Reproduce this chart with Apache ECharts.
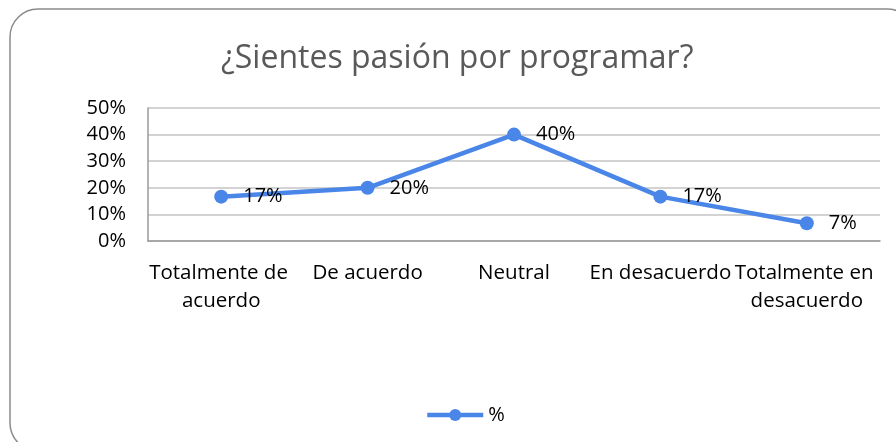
<!DOCTYPE html>
<html>
<head>
<meta charset="utf-8">
<script src="https://cdn.jsdelivr.net/npm/echarts@6/dist/echarts.min.js"></script>
<style>
html,body{margin:0;padding:0;background:#fff;}
#c{width:896px;height:442px;}
</style>
</head>
<body>
<div id="c"></div>
<script>
var titleText = '¿Sientes pasión por programar?';
var categories = ['Totalmente de acuerdo', 'De acuerdo', 'Neutral', 'En desacuerdo', 'Totalmente en desacuerdo'];
var seriesName = '%';
var values = [0.1667, 0.20, 0.40, 0.1667, 0.0667];
var yTicks = [0, 0.1, 0.2, 0.3, 0.4, 0.5];

var FONT = 'Open Sans';
var chart = echarts.init(document.getElementById('c'), null, {renderer: 'canvas'});
chart.setOption({
  animation: false,
  backgroundColor: '#ffffff',
  title: {
    text: titleText,
    left: 221,
    top: 43,
    padding: 0,
    textStyle: {fontFamily: FONT, fontSize: 32, fontWeight: 'normal', color: '#595959'}
  },
  graphic: [{
    type: 'rect',
    shape: {x: 10, y: 9, width: 905, height: 442, r: 28},
    style: {fill: 'none', stroke: '#8c8c8c', lineWidth: 1.5},
    silent: true,
    z: 100
  }],
  legend: {
    data: [seriesName],
    left: 425,
    top: 405,
    padding: 0,
    itemWidth: 56,
    itemHeight: 15,
    itemGap: 4,
    lineStyle: {width: 4.5},
    textStyle: {fontFamily: FONT, fontSize: 20, color: '#000'}
  },
  grid: {left: 148, right: 16, top: 108, bottom: 201, containLabel: false},
  xAxis: {
    type: 'category',
    data: categories,
    boundaryGap: true,
    axisLine: {show: true, lineStyle: {color: '#9a9a9a', width: 1.5}},
    axisTick: {show: false},
    axisLabel: {
      interval: 0,
      margin: 18,
      fontFamily: FONT,
      fontSize: 20.5,
      color: '#000',
      lineHeight: 28,
      width: 150,
      overflow: 'break',
      align: 'center'
    },
    splitLine: {show: false}
  },
  yAxis: {
    type: 'value',
    min: yTicks[0],
    max: yTicks[yTicks.length - 1],
    interval: 0.1,
    axisLine: {show: true, lineStyle: {color: '#9a9a9a', width: 1.5}},
    axisTick: {show: false},
    axisLabel: {
      margin: 22,
      fontFamily: FONT,
      fontSize: 20,
      color: '#000',
      formatter: function (v) { return Math.round(v * 100) + '%'; }
    },
    splitLine: {show: true, lineStyle: {color: '#c4c4c4', width: 1.5}}
  },
  series: [{
    name: seriesName,
    type: 'line',
    data: values,
    symbol: 'circle',
    symbolSize: 14,
    lineStyle: {color: '#4a86e8', width: 4.5},
    itemStyle: {color: '#4a86e8'},
    label: {
      show: true,
      position: 'right',
      distance: 15,
      fontFamily: FONT,
      fontSize: 20,
      color: '#000',
      formatter: function (p) { return Math.round(p.value * 100) + '%'; }
    }
  }]
});
</script>
</body>
</html>
